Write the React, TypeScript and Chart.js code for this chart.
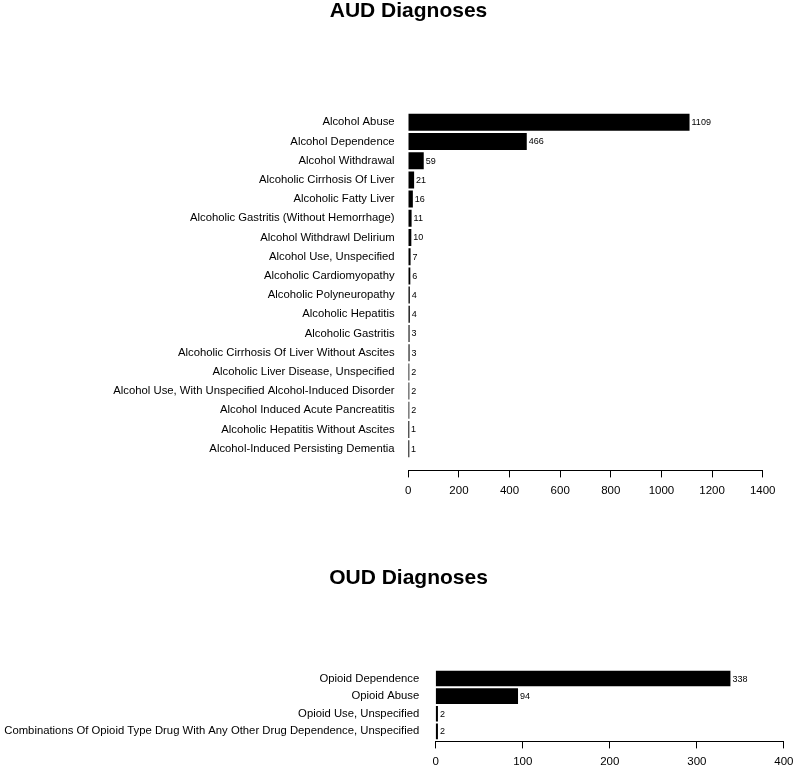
import React, { useEffect, useRef } from "react";
import { Chart, registerables } from "chart.js";

Chart.register(...registerables);

const FONT = '"Liberation Sans", Arial, Helvetica, sans-serif';

// ---- AUD data ----
const audTitle = "AUD Diagnoses";
const audCategories = [
  "Alcohol Abuse",
  "Alcohol Dependence",
  "Alcohol Withdrawal",
  "Alcoholic Cirrhosis Of Liver",
  "Alcoholic Fatty Liver",
  "Alcoholic Gastritis (Without Hemorrhage)",
  "Alcohol Withdrawl Delirium",
  "Alcohol Use, Unspecified",
  "Alcoholic Cardiomyopathy",
  "Alcoholic Polyneuropathy",
  "Alcoholic Hepatitis",
  "Alcoholic Gastritis",
  "Alcoholic Cirrhosis Of Liver Without Ascites",
  "Alcoholic Liver Disease, Unspecified",
  "Alcohol Use, With Unspecified Alcohol-Induced Disorder",
  "Alcohol Induced Acute Pancreatitis",
  "Alcoholic Hepatitis Without Ascites",
  "Alcohol-Induced Persisting Dementia",
];
const audValues = [1109, 466, 59, 21, 16, 11, 10, 7, 6, 4, 4, 3, 3, 2, 2, 2, 1, 1];
const audAxisMax = 1400;
const audAxisStep = 200;

// ---- OUD data ----
const oudTitle = "OUD Diagnoses";
const oudCategories = [
  "Opioid Dependence",
  "Opioid Abuse",
  "Opioid Use, Unspecified",
  "Combinations Of Opioid Type Drug With Any Other Drug Dependence, Unspecified",
];
const oudValues = [338, 94, 2, 2];
const oudAxisMax = 400;
const oudAxisStep = 100;

const valueLabels = {
  id: "valueLabels",
  afterDatasetsDraw(chart: any) {
    const ctx = chart.ctx;
    const meta = chart.getDatasetMeta(0);
    const ds = chart.data.datasets[0];
    ctx.save();
    ctx.font = `9px ${FONT}`;
    ctx.fillStyle = "#000";
    ctx.textBaseline = "middle";
    ctx.textAlign = "left";
    meta.data.forEach((bar: any, i: number) => {
      ctx.fillText(String(ds.data[i].x), bar.x + 2.5, bar.y + 0.5);
    });
    ctx.restore();
  },
};

const panelTitle = {
  id: "panelTitle",
  afterDraw(chart: any, _args: any, opts: any) {
    const ctx = chart.ctx;
    ctx.save();
    ctx.font = `bold 21px ${FONT}`;
    ctx.fillStyle = "#000";
    ctx.textAlign = "center";
    ctx.textBaseline = "alphabetic";
    ctx.fillText(opts.text, opts.x, opts.y);
    ctx.restore();
  },
};

type Layout = {
  titleX: number;
  titleBaseline: number;
  padTop: number;
  padRight: number;
  yWidth: number;
  yPad: number;
  xHeight: number;
};

function buildConfig(
  title: string,
  cats: string[],
  vals: number[],
  xMax: number,
  xStep: number,
  L: Layout
) {
  const n = cats.length;
  // R barplot style: bars fill 1/1.2 of each band, range extended by 4%
  const half = 0.5 / 1.2;
  const ext = 0.04 * (n - 1 + 2 * half);
  return {
    type: "bar" as const,
    data: {
      datasets: [
        {
          data: cats.map((_, i) => ({ x: vals[i], y: i })),
          backgroundColor: "#000",
          borderWidth: 0,
          inflateAmount: 0.5,
          categoryPercentage: 1,
          barPercentage: 1 / 1.2,
        },
      ],
    },
    plugins: [valueLabels, panelTitle],
    options: {
      indexAxis: "y" as const,
      responsive: false,
      animation: false as const,
      events: [],
      layout: { padding: { left: 0, right: L.padRight, top: L.padTop, bottom: 0 } },
      plugins: {
        legend: { display: false },
        tooltip: { enabled: false },
        title: { display: false },
        panelTitle: { text: title, x: L.titleX, y: L.titleBaseline },
      },
      scales: {
        x: {
          type: "linear" as const,
          min: 0,
          max: xMax,
          ticks: {
            stepSize: xStep,
            color: "#000",
            font: { family: FONT, size: 11.5 },
            padding: 6.5,
            maxRotation: 0,
            callback: (v: any) => String(v),
          },
          grid: {
            display: true,
            drawOnChartArea: false,
            drawTicks: true,
            tickLength: 7,
            color: "#000",
            lineWidth: 1,
          },
          border: { display: true, color: "#000", width: 1 },
          afterFit: (s: any) => {
            s.height = L.xHeight;
          },
        },
        y: {
          type: "linear" as const,
          reverse: true,
          offset: false,
          min: -half - ext,
          max: n - 1 + half + ext,
          afterBuildTicks: (s: any) => {
            s.ticks = cats.map((_, i) => ({ value: i }));
          },
          ticks: {
            autoSkip: false,
            color: "#000",
            font: { family: FONT, size: 11.3 },
            padding: L.yPad,
            callback: (v: any) => cats[v as number] ?? "",
          },
          grid: { display: false, drawTicks: false, offset: false },
          border: { display: false },
          afterFit: (s: any) => {
            s.width = L.yWidth;
          },
        },
      },
    },
  };
}

function BarPanel(props: {
  title: string;
  cats: string[];
  vals: number[];
  xMax: number;
  xStep: number;
  layout: Layout;
  width: number;
  height: number;
  top: number;
}) {
  const ref = useRef<HTMLCanvasElement | null>(null);
  useEffect(() => {
    if (!ref.current) return;
    const chart = new Chart(
      ref.current,
      buildConfig(props.title, props.cats, props.vals, props.xMax, props.xStep, props.layout) as any
    );
    return () => chart.destroy();
  }, []);
  return (
    <canvas
      ref={ref}
      width={props.width}
      height={props.height}
      style={{ position: "absolute", left: 0, top: props.top, width: props.width, height: props.height }}
    />
  );
}

export default function App() {
  return (
    <div
      style={{
        position: "absolute",
        left: 0,
        top: 0,
        width: 800,
        height: 771,
        background: "#fff",
        overflow: "hidden",
      }}
    >
      <BarPanel
        title={audTitle}
        cats={audCategories}
        vals={audValues}
        xMax={audAxisMax}
        xStep={audAxisStep}
        width={800}
        height={520}
        top={0}
        layout={{
          titleX: 408.5,
          titleBaseline: 16.5,
          padTop: 100.6,
          padRight: 37.3,
          yWidth: 408.3,
          yPad: 13.7,
          xHeight: 49.6,
        }}
      />
      <BarPanel
        title={oudTitle}
        cats={oudCategories}
        vals={oudValues}
        xMax={oudAxisMax}
        xStep={oudAxisStep}
        width={800}
        height={251}
        top={520}
        layout={{
          titleX: 408.5,
          titleBaseline: 64,
          padTop: 148.5,
          padRight: 11,
          yWidth: 435.7,
          yPad: 16.4,
          xHeight: 29.6,
        }}
      />
    </div>
  );
}
